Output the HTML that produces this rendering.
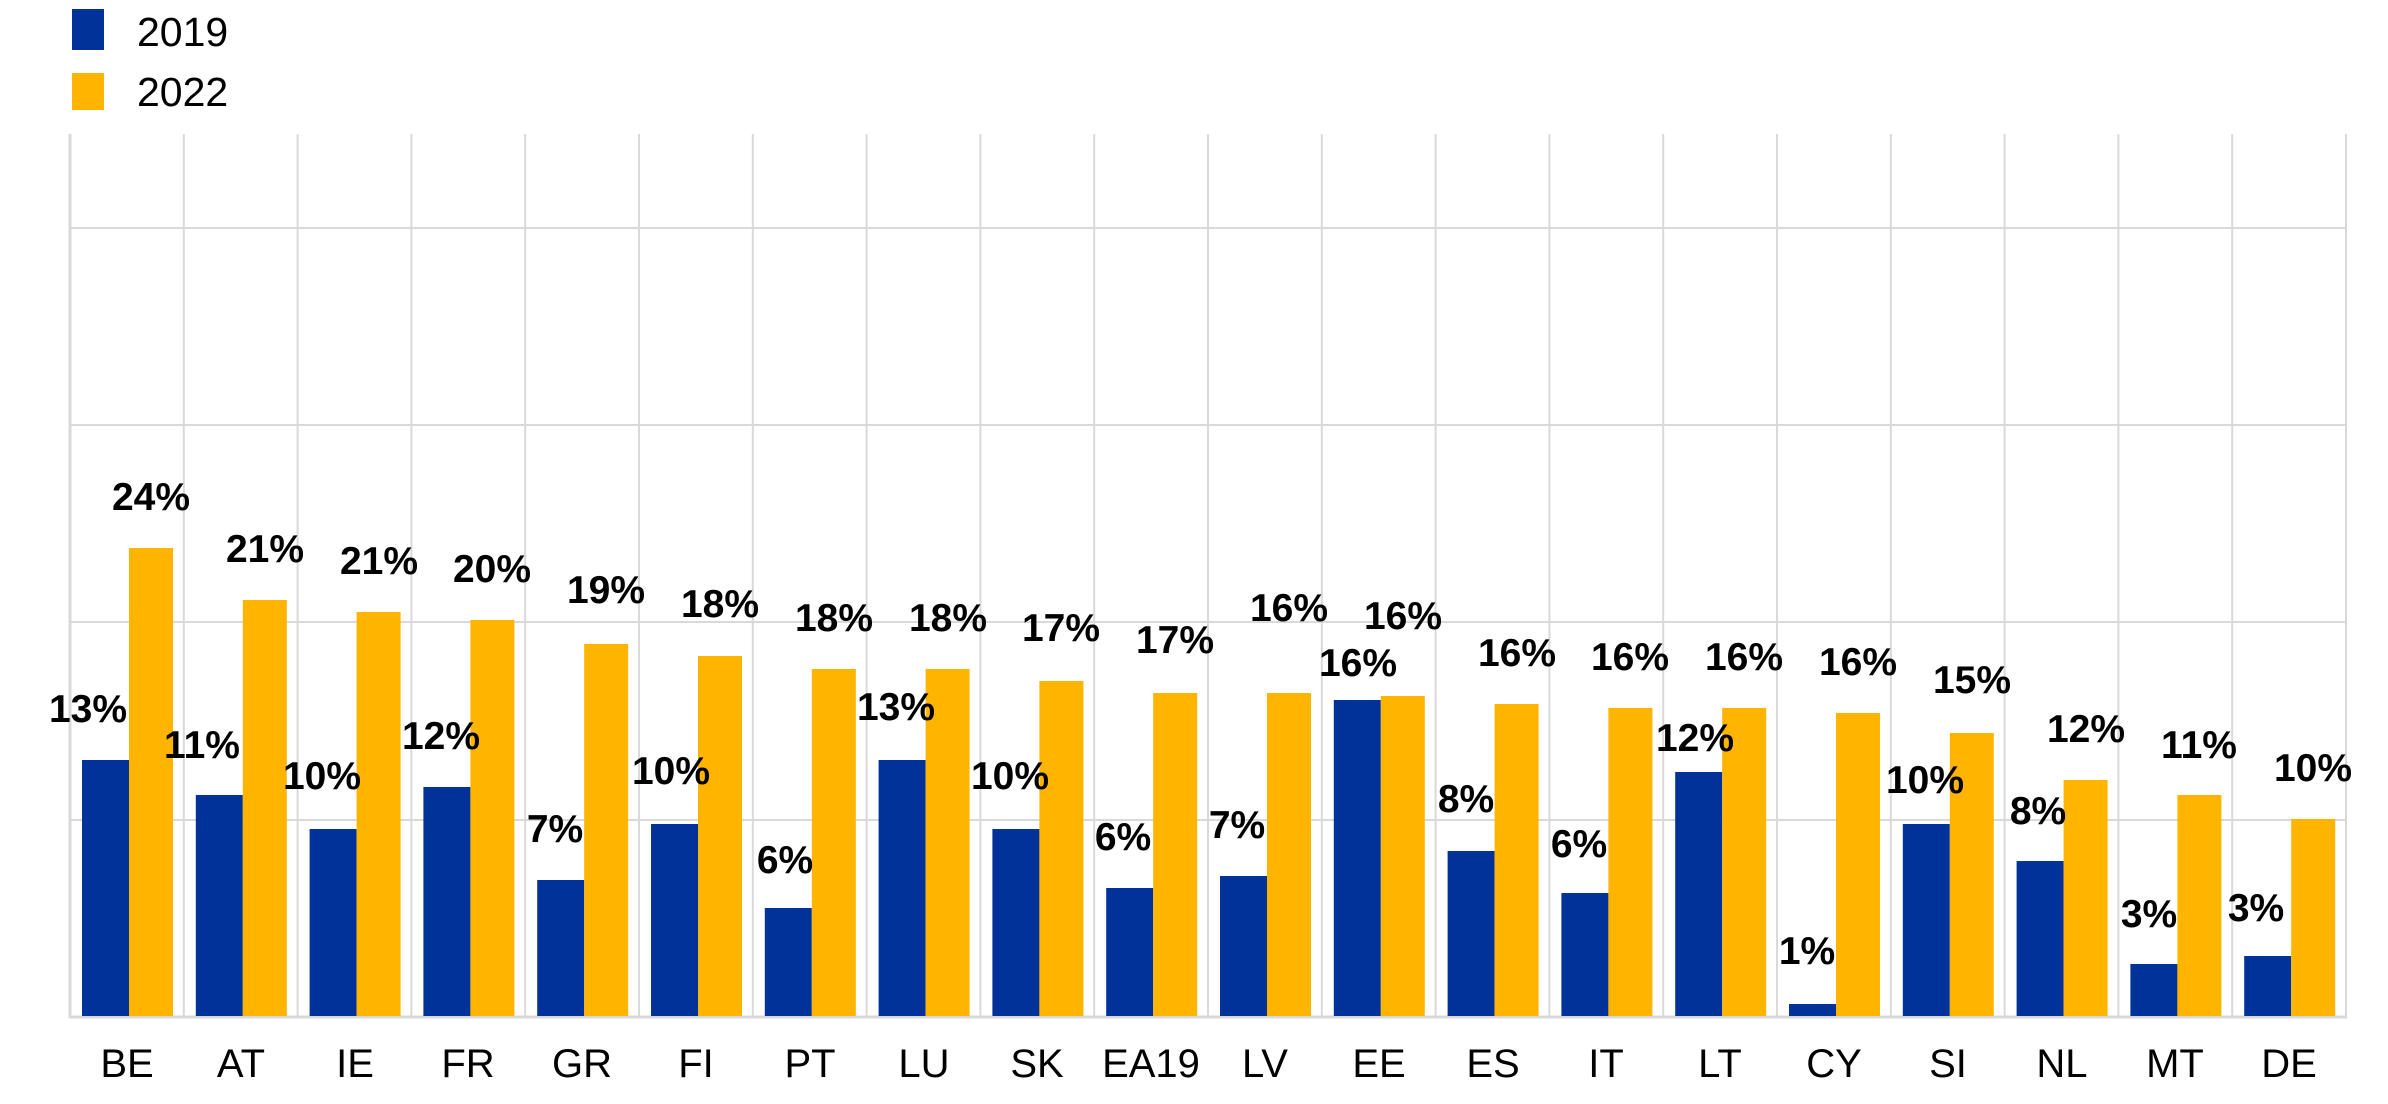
<!DOCTYPE html>
<html><head><meta charset="utf-8"><style>
html,body{margin:0;padding:0;background:#fff;}
svg{display:block;}
text{font-family:"Liberation Sans",Arial,sans-serif;}
.l{font-weight:bold;font-size:39px;fill:#000;text-anchor:middle;}
.t{font-size:40px;fill:#000;text-anchor:middle;}
</style></head><body>
<svg width="2388" height="1104" viewBox="0 0 2388 1104" xmlns="http://www.w3.org/2000/svg">
<rect x="72" y="9" width="32" height="41" fill="#003299"/>
<rect x="72" y="73" width="32" height="37" fill="#ffb400"/>
<text x="137" y="46" font-size="41" fill="#000">2019</text>
<text x="137" y="106" font-size="41" fill="#000">2022</text>
<g stroke="#d9d9d9" stroke-width="2">
<line x1="70" y1="228" x2="2346" y2="228"/>
<line x1="70" y1="425" x2="2346" y2="425"/>
<line x1="70" y1="622" x2="2346" y2="622"/>
<line x1="70" y1="820" x2="2346" y2="820"/>
<line x1="183.8" y1="134" x2="183.8" y2="1016"/><line x1="297.6" y1="134" x2="297.6" y2="1016"/><line x1="411.4" y1="134" x2="411.4" y2="1016"/><line x1="525.2" y1="134" x2="525.2" y2="1016"/><line x1="639" y1="134" x2="639" y2="1016"/><line x1="752.8" y1="134" x2="752.8" y2="1016"/><line x1="866.6" y1="134" x2="866.6" y2="1016"/><line x1="980.4" y1="134" x2="980.4" y2="1016"/><line x1="1094.2" y1="134" x2="1094.2" y2="1016"/><line x1="1208" y1="134" x2="1208" y2="1016"/><line x1="1321.8" y1="134" x2="1321.8" y2="1016"/><line x1="1435.6" y1="134" x2="1435.6" y2="1016"/><line x1="1549.4" y1="134" x2="1549.4" y2="1016"/><line x1="1663.2" y1="134" x2="1663.2" y2="1016"/><line x1="1777" y1="134" x2="1777" y2="1016"/><line x1="1890.8" y1="134" x2="1890.8" y2="1016"/><line x1="2004.6" y1="134" x2="2004.6" y2="1016"/><line x1="2118.4" y1="134" x2="2118.4" y2="1016"/><line x1="2232.2" y1="134" x2="2232.2" y2="1016"/><line x1="2346" y1="134" x2="2346" y2="1016"/>
</g>
<g stroke="#d9d9d9" stroke-width="3">
<line x1="70" y1="134" x2="70" y2="1018"/>
<line x1="70" y1="1017" x2="2347" y2="1017"/>
</g>
<g fill="#003299">
<rect x="82" y="760" width="47" height="256"/>
<rect x="195.8" y="795" width="47" height="221"/>
<rect x="309.6" y="829" width="47" height="187"/>
<rect x="423.4" y="787" width="47" height="229"/>
<rect x="537.2" y="880" width="47" height="136"/>
<rect x="651" y="824" width="47" height="192"/>
<rect x="764.8" y="908" width="47" height="108"/>
<rect x="878.6" y="760" width="47" height="256"/>
<rect x="992.4" y="829" width="47" height="187"/>
<rect x="1106.2" y="888" width="47" height="128"/>
<rect x="1220" y="876" width="47" height="140"/>
<rect x="1333.8" y="700" width="47" height="316"/>
<rect x="1447.6" y="851" width="47" height="165"/>
<rect x="1561.4" y="893" width="47" height="123"/>
<rect x="1675.2" y="772" width="47" height="244"/>
<rect x="1789" y="1004" width="47" height="12"/>
<rect x="1902.8" y="824" width="47" height="192"/>
<rect x="2016.6" y="861" width="47" height="155"/>
<rect x="2130.4" y="964" width="47" height="52"/>
<rect x="2244.2" y="956" width="47" height="60"/>
</g>
<g fill="#ffb400">
<rect x="129" y="548" width="44" height="468"/>
<rect x="242.8" y="600" width="44" height="416"/>
<rect x="356.6" y="612" width="44" height="404"/>
<rect x="470.4" y="620" width="44" height="396"/>
<rect x="584.2" y="644" width="44" height="372"/>
<rect x="698" y="656" width="44" height="360"/>
<rect x="811.8" y="669" width="44" height="347"/>
<rect x="925.6" y="669" width="44" height="347"/>
<rect x="1039.4" y="681" width="44" height="335"/>
<rect x="1153.2" y="693" width="44" height="323"/>
<rect x="1267" y="693" width="44" height="323"/>
<rect x="1380.8" y="696" width="44" height="320"/>
<rect x="1494.6" y="704" width="44" height="312"/>
<rect x="1608.4" y="708" width="44" height="308"/>
<rect x="1722.2" y="708" width="44" height="308"/>
<rect x="1836" y="713" width="44" height="303"/>
<rect x="1949.8" y="733" width="44" height="283"/>
<rect x="2063.6" y="780" width="44" height="236"/>
<rect x="2177.4" y="795" width="44" height="221"/>
<rect x="2291.2" y="819" width="44" height="197"/>
</g>
<text class="l" x="88" y="722">13%</text>
<text class="l" x="202" y="758">11%</text>
<text class="l" x="322" y="789">10%</text>
<text class="l" x="441" y="749">12%</text>
<text class="l" x="555" y="842">7%</text>
<text class="l" x="671" y="784">10%</text>
<text class="l" x="785" y="873">6%</text>
<text class="l" x="896" y="720">13%</text>
<text class="l" x="1010" y="789">10%</text>
<text class="l" x="1123" y="850">6%</text>
<text class="l" x="1237" y="838">7%</text>
<text class="l" x="1358" y="676">16%</text>
<text class="l" x="1466" y="812">8%</text>
<text class="l" x="1579" y="857">6%</text>
<text class="l" x="1695" y="751">12%</text>
<text class="l" x="1807" y="964">1%</text>
<text class="l" x="1925" y="793">10%</text>
<text class="l" x="2038" y="824">8%</text>
<text class="l" x="2149" y="927">3%</text>
<text class="l" x="2256" y="921">3%</text>
<text class="l" x="151" y="510">24%</text>
<text class="l" x="265" y="562">21%</text>
<text class="l" x="379" y="574">21%</text>
<text class="l" x="492" y="582">20%</text>
<text class="l" x="606" y="603">19%</text>
<text class="l" x="720" y="617">18%</text>
<text class="l" x="834" y="631">18%</text>
<text class="l" x="948" y="631">18%</text>
<text class="l" x="1061" y="641">17%</text>
<text class="l" x="1175" y="653">17%</text>
<text class="l" x="1289" y="621">16%</text>
<text class="l" x="1403" y="629">16%</text>
<text class="l" x="1517" y="666">16%</text>
<text class="l" x="1630" y="670">16%</text>
<text class="l" x="1744" y="670">16%</text>
<text class="l" x="1858" y="675">16%</text>
<text class="l" x="1972" y="693">15%</text>
<text class="l" x="2086" y="742">12%</text>
<text class="l" x="2199" y="758">11%</text>
<text class="l" x="2313" y="781">10%</text>
<text class="t" x="127" y="1077">BE</text>
<text class="t" x="241" y="1077">AT</text>
<text class="t" x="355" y="1077">IE</text>
<text class="t" x="468" y="1077">FR</text>
<text class="t" x="582" y="1077">GR</text>
<text class="t" x="696" y="1077">FI</text>
<text class="t" x="810" y="1077">PT</text>
<text class="t" x="924" y="1077">LU</text>
<text class="t" x="1037" y="1077">SK</text>
<text class="t" x="1151" y="1077">EA19</text>
<text class="t" x="1265" y="1077">LV</text>
<text class="t" x="1379" y="1077">EE</text>
<text class="t" x="1493" y="1077">ES</text>
<text class="t" x="1606" y="1077">IT</text>
<text class="t" x="1720" y="1077">LT</text>
<text class="t" x="1834" y="1077">CY</text>
<text class="t" x="1948" y="1077">SI</text>
<text class="t" x="2062" y="1077">NL</text>
<text class="t" x="2175" y="1077">MT</text>
<text class="t" x="2289" y="1077">DE</text>
</svg>
</body></html>
